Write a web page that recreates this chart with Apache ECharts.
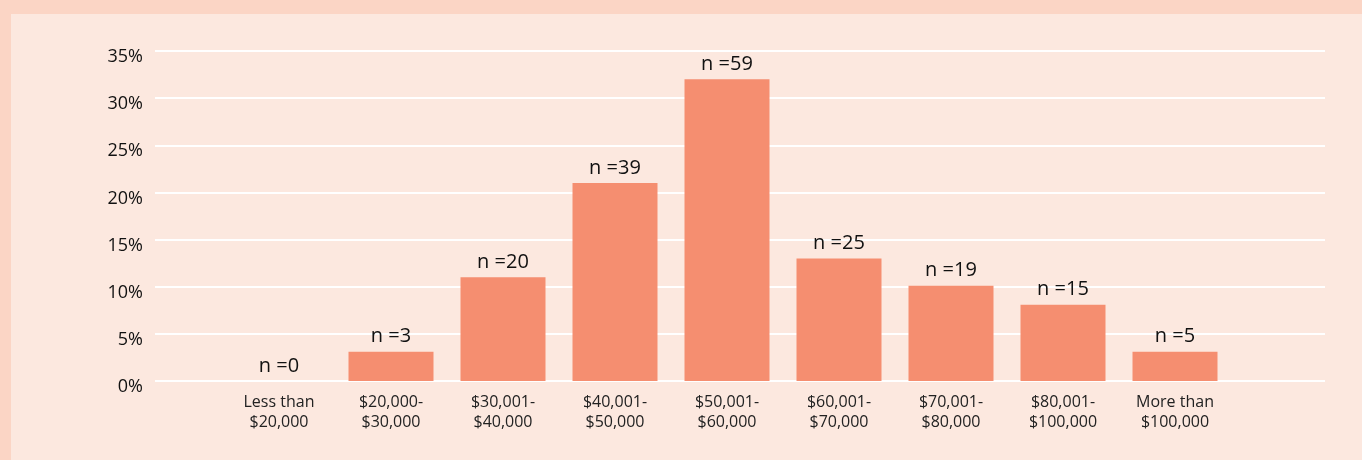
<!DOCTYPE html>
<html>
<head>
<meta charset="utf-8">
<script src="https://cdn.jsdelivr.net/npm/echarts@6/dist/echarts.min.js"></script>
<style>
    html, body { margin: 0; padding: 0; }
    .wrap { width: 1362px; height: 460px; background: #fbd5c5; position: relative; }
    #chart { position: absolute; left: 11px; top: 14px; width: 1351px; height: 446px; background: #fce8df; }
</style>
</head>
<body>
<div class="wrap"><div id="chart"></div></div>
<script>
var categories = ['Less than\n$20,000', '$20,000-\n$30,000', '$30,001-\n$40,000', '$40,001-\n$50,000',
    '$50,001-\n$60,000', '$60,001-\n$70,000', '$70,001-\n$80,000', '$80,001-\n$100,000', 'More than\n$100,000'];
var percents = [0, 3.1, 11.0, 21.0, 32.0, 13.0, 10.1, 8.1, 3.1];
var nCounts = [0, 3, 20, 39, 59, 25, 19, 15, 5];
var yTicks = [0, 5, 10, 15, 20, 25, 30, 35];

var myChart = echarts.init(document.getElementById('chart'));
var font = '"Open Sans", sans-serif';

var option = {
    animation: false,
    textStyle: { fontFamily: font },
    grid: [
        // grid lines + y labels
        { left: 144, top: 37, width: 1170, height: 330 },
        // bars
        { left: 212, top: 37, width: 1008, height: 330 }
    ],
    xAxis: [{
        gridIndex: 0,
        type: 'value',
        show: false
    }, {
        gridIndex: 1,
        type: 'category',
        data: categories,
        axisLine: { show: false },
        axisTick: { show: false },
        axisLabel: {
            color: '#222',
            fontSize: 16,
            lineHeight: 20,
            margin: 11,
            interval: 0
        }
    }],
    yAxis: [{
        gridIndex: 0,
        type: 'value',
        min: yTicks[0],
        max: yTicks[yTicks.length - 1],
        interval: 5,
        axisLine: { show: false },
        axisTick: { show: false },
        axisLabel: {
            color: '#111',
            fontSize: 18,
            margin: 12,
            verticalAlign: 'top',
            lineHeight: 12,
            formatter: '{value}%'
        },
        splitLine: {
            lineStyle: { color: '#ffffff', width: 2 }
        }
    }, {
        gridIndex: 1,
        type: 'value',
        min: 0,
        max: 35,
        show: false
    }],
    series: [{
        name: 'share',
        type: 'bar',
        xAxisIndex: 1,
        yAxisIndex: 1,
        data: percents,
        barWidth: 85,
        itemStyle: { color: '#f58e70' },
        label: {
            show: true,
            position: 'top',
            distance: 5,
            color: '#111',
            fontSize: 20,
            formatter: function (p) {
                return 'n =' + nCounts[p.dataIndex];
            }
        }
    }]
};

myChart.setOption(option);
window.addEventListener('resize', function () {
    myChart.resize();
});
</script>
</body>
</html>
